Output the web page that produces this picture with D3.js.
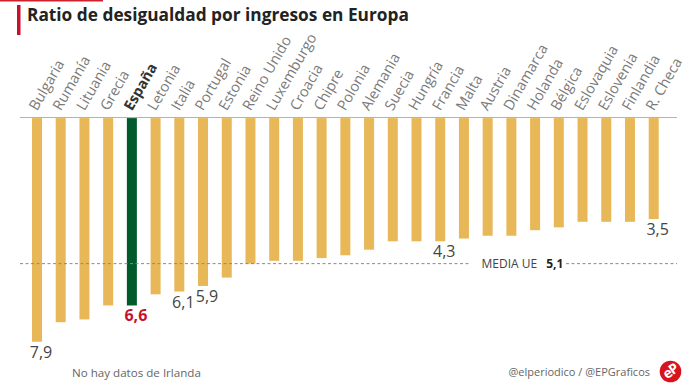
<!DOCTYPE html>
<html><head><meta charset="utf-8">
<script src="https://cdn.jsdelivr.net/npm/d3@7"></script>
<style>
html,body{margin:0;padding:0;background:#fff;}
svg{display:block;font-family:"Open Sans",sans-serif;}
</style></head>
<body>
<svg id="c" width="699" height="391"></svg>
<script>
const countries = ["Bulgaria","Rumanía","Lituania","Grecia","España","Letonia","Italia","Portugal","Estonia","Reino Unido","Luxemburgo","Croacia","Chipre","Polonia","Alemania","Suecia","Hungría","Francia","Malta","Austria","Dinamarca","Holanda","Bélgica","Eslovaquia","Eslovenia","Finlandia","R. Checa"];
const values = [7.9,7.2,7.1,6.6,6.6,6.2,6.1,5.9,5.6,5.1,5.0,5.0,4.9,4.8,4.6,4.3,4.3,4.3,4.2,4.1,4.1,3.9,3.8,3.6,3.6,3.6,3.5];
const labeled = ["Bulgaria","España","Italia","Portugal","Francia","R. Checa"];
const highlight = "España";
const euAverage = 5.1;
const title = "Ratio de desigualdad por ingresos en Europa";
const note = "No hay datos de Irlanda";
const credit = "@elperiodico / @EPGraficos";

const fmt = v => d3.format(".1f")(v).replace(".", ",");
const svg = d3.select("#c");

// top red accent + title
svg.append("rect").attr("x",0).attr("y",0).attr("width",103).attr("height",1.5).attr("fill","#d0202e");
svg.append("rect").attr("x",17).attr("y",5).attr("width",3.5).attr("height",30).attr("fill","#c8102e");
svg.append("text").attr("x",27).attr("y",20.5).attr("font-size",17.3).attr("font-weight",700)
  .attr("fill","#222").text(title);

const axisY = 117.5;
const x = d3.scalePoint().domain(countries).range([37, 653.7]);
const y = d3.scaleLinear().domain([0, 8]).range([121.4, 121.4 + 8*27.89]);
const barW = 10;

// baseline
svg.append("line").attr("x1",20).attr("x2",677).attr("y1",axisY).attr("y2",axisY)
  .attr("stroke","#b3b3b3").attr("stroke-width",1.2);

// bars
svg.append("g").selectAll("rect").data(countries).join("rect")
  .attr("x", d => x(d) - barW/2)
  .attr("y", axisY + 0.6)
  .attr("width", barW)
  .attr("height", (d,i) => y(values[i]) - axisY - 0.6)
  .attr("fill", d => d === highlight ? "#005a2c" : "#e8b858");

// EU average dashed line with gap for label
const my = y(euAverage);
svg.append("line").attr("x1",20).attr("x2",471).attr("y1",my).attr("y2",my)
  .attr("stroke","#8a8a8a").attr("stroke-width",1).attr("stroke-dasharray","3,2.5");
svg.append("line").attr("x1",566).attr("x2",677).attr("y1",my).attr("y2",my)
  .attr("stroke","#8a8a8a").attr("stroke-width",1).attr("stroke-dasharray","3,2.5");
const mt = svg.append("text").attr("x",481.5).attr("y",my+4.3).attr("font-size",12).attr("fill","#444");
mt.append("tspan").text("MEDIA UE");
mt.append("tspan").attr("dx",9).attr("font-weight",700).attr("fill","#222").text(fmt(euAverage));

// category labels
svg.append("g").selectAll("text").data(countries).join("text")
  .attr("transform", d => `translate(${x(d)},${axisY-6}) rotate(-60)`)
  .attr("font-size",14.5)
  .attr("font-weight", d => d === highlight ? 700 : 400)
  .attr("fill", d => d === highlight ? "#333" : "#7a7a7a")
  .text(d => d);

// value labels
svg.append("g").selectAll("text").data(labeled).join("text")
  .attr("x", d => x(d) + 4)
  .attr("y", d => y(values[countries.indexOf(d)]) + 16)
  .attr("text-anchor","middle")
  .attr("font-size",16)
  .attr("font-weight", d => d === highlight ? 700 : 400)
  .attr("fill", d => d === highlight ? "#c8102e" : "#444")
  .text(d => fmt(values[countries.indexOf(d)]));

// footer
svg.append("text").attr("x",72).attr("y",376.5).attr("font-size",11.6).attr("fill","#666").text(note);
svg.append("text").attr("x",650).attr("y",376).attr("text-anchor","end").attr("font-size",11).attr("fill","#666").text(credit);
const logo = svg.append("g").attr("transform","translate(670.5,371.5)");
logo.append("circle").attr("r",10.8).attr("fill","#d7141e");
logo.append("text").attr("transform","rotate(-35)").attr("text-anchor","middle").attr("y",4.5)
  .attr("font-size",14).attr("font-weight",700).attr("fill","#fff").attr("letter-spacing",-1).text("eP");
</script>
</body></html>
